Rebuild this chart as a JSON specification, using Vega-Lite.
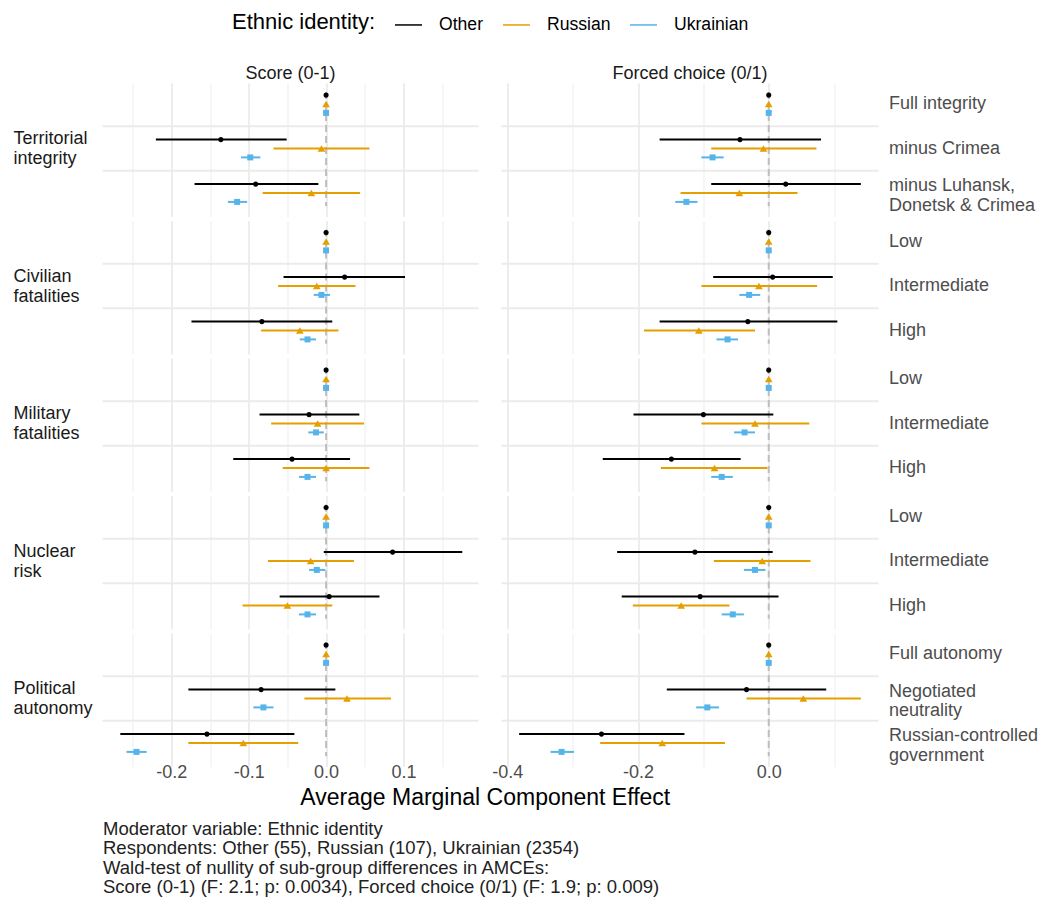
{
  "$schema": "https://vega.github.io/schema/vega-lite/v6.json",
  "background": "white",
  "padding": {"left": 13, "top": 10, "right": 5, "bottom": 5},
  "datasets": {"amce": [
    {"o":"Score (0-1)","a":"Territorial integrity","l":"Full integrity","g":"Other","est":0,"lo":0,"hi":0},
    {"o":"Score (0-1)","a":"Territorial integrity","l":"Full integrity","g":"Russian","est":0,"lo":0,"hi":0},
    {"o":"Score (0-1)","a":"Territorial integrity","l":"Full integrity","g":"Ukrainian","est":0,"lo":0,"hi":0},
    {"o":"Score (0-1)","a":"Territorial integrity","l":"minus Crimea","g":"Other","est":-0.136,"lo":-0.220,"hi":-0.051},
    {"o":"Score (0-1)","a":"Territorial integrity","l":"minus Crimea","g":"Russian","est":-0.006,"lo":-0.068,"hi":0.056},
    {"o":"Score (0-1)","a":"Territorial integrity","l":"minus Crimea","g":"Ukrainian","est":-0.098,"lo":-0.110,"hi":-0.085},
    {"o":"Score (0-1)","a":"Territorial integrity","l":"minus Luhansk, Donetsk & Crimea","g":"Other","est":-0.091,"lo":-0.170,"hi":-0.010},
    {"o":"Score (0-1)","a":"Territorial integrity","l":"minus Luhansk, Donetsk & Crimea","g":"Russian","est":-0.019,"lo":-0.082,"hi":0.044},
    {"o":"Score (0-1)","a":"Territorial integrity","l":"minus Luhansk, Donetsk & Crimea","g":"Ukrainian","est":-0.115,"lo":-0.127,"hi":-0.102},
    {"o":"Forced choice (0/1)","a":"Territorial integrity","l":"Full integrity","g":"Other","est":0,"lo":0,"hi":0},
    {"o":"Forced choice (0/1)","a":"Territorial integrity","l":"Full integrity","g":"Russian","est":0,"lo":0,"hi":0},
    {"o":"Forced choice (0/1)","a":"Territorial integrity","l":"Full integrity","g":"Ukrainian","est":0,"lo":0,"hi":0},
    {"o":"Forced choice (0/1)","a":"Territorial integrity","l":"minus Crimea","g":"Other","est":-0.044,"lo":-0.167,"hi":0.080},
    {"o":"Forced choice (0/1)","a":"Territorial integrity","l":"minus Crimea","g":"Russian","est":-0.008,"lo":-0.088,"hi":0.073},
    {"o":"Forced choice (0/1)","a":"Territorial integrity","l":"minus Crimea","g":"Ukrainian","est":-0.086,"lo":-0.103,"hi":-0.069},
    {"o":"Forced choice (0/1)","a":"Territorial integrity","l":"minus Luhansk, Donetsk & Crimea","g":"Other","est":0.026,"lo":-0.088,"hi":0.141},
    {"o":"Forced choice (0/1)","a":"Territorial integrity","l":"minus Luhansk, Donetsk & Crimea","g":"Russian","est":-0.045,"lo":-0.135,"hi":0.044},
    {"o":"Forced choice (0/1)","a":"Territorial integrity","l":"minus Luhansk, Donetsk & Crimea","g":"Ukrainian","est":-0.126,"lo":-0.143,"hi":-0.109},

    {"o":"Score (0-1)","a":"Civilian fatalities","l":"Low","g":"Other","est":0,"lo":0,"hi":0},
    {"o":"Score (0-1)","a":"Civilian fatalities","l":"Low","g":"Russian","est":0,"lo":0,"hi":0},
    {"o":"Score (0-1)","a":"Civilian fatalities","l":"Low","g":"Ukrainian","est":0,"lo":0,"hi":0},
    {"o":"Score (0-1)","a":"Civilian fatalities","l":"Intermediate","g":"Other","est":0.024,"lo":-0.055,"hi":0.102},
    {"o":"Score (0-1)","a":"Civilian fatalities","l":"Intermediate","g":"Russian","est":-0.012,"lo":-0.062,"hi":0.038},
    {"o":"Score (0-1)","a":"Civilian fatalities","l":"Intermediate","g":"Ukrainian","est":-0.006,"lo":-0.016,"hi":0.005},
    {"o":"Score (0-1)","a":"Civilian fatalities","l":"High","g":"Other","est":-0.083,"lo":-0.174,"hi":0.008},
    {"o":"Score (0-1)","a":"Civilian fatalities","l":"High","g":"Russian","est":-0.034,"lo":-0.084,"hi":0.016},
    {"o":"Score (0-1)","a":"Civilian fatalities","l":"High","g":"Ukrainian","est":-0.024,"lo":-0.034,"hi":-0.013},
    {"o":"Forced choice (0/1)","a":"Civilian fatalities","l":"Low","g":"Other","est":0,"lo":0,"hi":0},
    {"o":"Forced choice (0/1)","a":"Civilian fatalities","l":"Low","g":"Russian","est":0,"lo":0,"hi":0},
    {"o":"Forced choice (0/1)","a":"Civilian fatalities","l":"Low","g":"Ukrainian","est":0,"lo":0,"hi":0},
    {"o":"Forced choice (0/1)","a":"Civilian fatalities","l":"Intermediate","g":"Other","est":0.006,"lo":-0.085,"hi":0.098},
    {"o":"Forced choice (0/1)","a":"Civilian fatalities","l":"Intermediate","g":"Russian","est":-0.015,"lo":-0.103,"hi":0.074},
    {"o":"Forced choice (0/1)","a":"Civilian fatalities","l":"Intermediate","g":"Ukrainian","est":-0.030,"lo":-0.045,"hi":-0.013},
    {"o":"Forced choice (0/1)","a":"Civilian fatalities","l":"High","g":"Other","est":-0.032,"lo":-0.167,"hi":0.105},
    {"o":"Forced choice (0/1)","a":"Civilian fatalities","l":"High","g":"Russian","est":-0.107,"lo":-0.191,"hi":-0.021},
    {"o":"Forced choice (0/1)","a":"Civilian fatalities","l":"High","g":"Ukrainian","est":-0.063,"lo":-0.080,"hi":-0.047},

    {"o":"Score (0-1)","a":"Military fatalities","l":"Low","g":"Other","est":0,"lo":0,"hi":0},
    {"o":"Score (0-1)","a":"Military fatalities","l":"Low","g":"Russian","est":0,"lo":0,"hi":0},
    {"o":"Score (0-1)","a":"Military fatalities","l":"Low","g":"Ukrainian","est":0,"lo":0,"hi":0},
    {"o":"Score (0-1)","a":"Military fatalities","l":"Intermediate","g":"Other","est":-0.022,"lo":-0.086,"hi":0.043},
    {"o":"Score (0-1)","a":"Military fatalities","l":"Intermediate","g":"Russian","est":-0.011,"lo":-0.071,"hi":0.049},
    {"o":"Score (0-1)","a":"Military fatalities","l":"Intermediate","g":"Ukrainian","est":-0.013,"lo":-0.023,"hi":-0.003},
    {"o":"Score (0-1)","a":"Military fatalities","l":"High","g":"Other","est":-0.044,"lo":-0.120,"hi":0.031},
    {"o":"Score (0-1)","a":"Military fatalities","l":"High","g":"Russian","est":0.000,"lo":-0.056,"hi":0.056},
    {"o":"Score (0-1)","a":"Military fatalities","l":"High","g":"Ukrainian","est":-0.024,"lo":-0.035,"hi":-0.013},
    {"o":"Forced choice (0/1)","a":"Military fatalities","l":"Low","g":"Other","est":0,"lo":0,"hi":0},
    {"o":"Forced choice (0/1)","a":"Military fatalities","l":"Low","g":"Russian","est":0,"lo":0,"hi":0},
    {"o":"Forced choice (0/1)","a":"Military fatalities","l":"Low","g":"Ukrainian","est":0,"lo":0,"hi":0},
    {"o":"Forced choice (0/1)","a":"Military fatalities","l":"Intermediate","g":"Other","est":-0.100,"lo":-0.207,"hi":0.007},
    {"o":"Forced choice (0/1)","a":"Military fatalities","l":"Intermediate","g":"Russian","est":-0.021,"lo":-0.103,"hi":0.062},
    {"o":"Forced choice (0/1)","a":"Military fatalities","l":"Intermediate","g":"Ukrainian","est":-0.037,"lo":-0.053,"hi":-0.021},
    {"o":"Forced choice (0/1)","a":"Military fatalities","l":"High","g":"Other","est":-0.149,"lo":-0.254,"hi":-0.043},
    {"o":"Forced choice (0/1)","a":"Military fatalities","l":"High","g":"Russian","est":-0.083,"lo":-0.165,"hi":-0.002},
    {"o":"Forced choice (0/1)","a":"Military fatalities","l":"High","g":"Ukrainian","est":-0.072,"lo":-0.088,"hi":-0.055},

    {"o":"Score (0-1)","a":"Nuclear risk","l":"Low","g":"Other","est":0,"lo":0,"hi":0},
    {"o":"Score (0-1)","a":"Nuclear risk","l":"Low","g":"Russian","est":0,"lo":0,"hi":0},
    {"o":"Score (0-1)","a":"Nuclear risk","l":"Low","g":"Ukrainian","est":0,"lo":0,"hi":0},
    {"o":"Score (0-1)","a":"Nuclear risk","l":"Intermediate","g":"Other","est":0.086,"lo":-0.003,"hi":0.176},
    {"o":"Score (0-1)","a":"Nuclear risk","l":"Intermediate","g":"Russian","est":-0.020,"lo":-0.075,"hi":0.036},
    {"o":"Score (0-1)","a":"Nuclear risk","l":"Intermediate","g":"Ukrainian","est":-0.012,"lo":-0.022,"hi":-0.001},
    {"o":"Score (0-1)","a":"Nuclear risk","l":"High","g":"Other","est":0.004,"lo":-0.060,"hi":0.069},
    {"o":"Score (0-1)","a":"Nuclear risk","l":"High","g":"Russian","est":-0.050,"lo":-0.108,"hi":0.008},
    {"o":"Score (0-1)","a":"Nuclear risk","l":"High","g":"Ukrainian","est":-0.024,"lo":-0.035,"hi":-0.013},
    {"o":"Forced choice (0/1)","a":"Nuclear risk","l":"Low","g":"Other","est":0,"lo":0,"hi":0},
    {"o":"Forced choice (0/1)","a":"Nuclear risk","l":"Low","g":"Russian","est":0,"lo":0,"hi":0},
    {"o":"Forced choice (0/1)","a":"Nuclear risk","l":"Low","g":"Ukrainian","est":0,"lo":0,"hi":0},
    {"o":"Forced choice (0/1)","a":"Nuclear risk","l":"Intermediate","g":"Other","est":-0.113,"lo":-0.232,"hi":0.006},
    {"o":"Forced choice (0/1)","a":"Nuclear risk","l":"Intermediate","g":"Russian","est":-0.010,"lo":-0.084,"hi":0.064},
    {"o":"Forced choice (0/1)","a":"Nuclear risk","l":"Intermediate","g":"Ukrainian","est":-0.021,"lo":-0.038,"hi":-0.005},
    {"o":"Forced choice (0/1)","a":"Nuclear risk","l":"High","g":"Other","est":-0.105,"lo":-0.225,"hi":0.015},
    {"o":"Forced choice (0/1)","a":"Nuclear risk","l":"High","g":"Russian","est":-0.134,"lo":-0.208,"hi":-0.060},
    {"o":"Forced choice (0/1)","a":"Nuclear risk","l":"High","g":"Ukrainian","est":-0.055,"lo":-0.072,"hi":-0.038},

    {"o":"Score (0-1)","a":"Political autonomy","l":"Full autonomy","g":"Other","est":0,"lo":0,"hi":0},
    {"o":"Score (0-1)","a":"Political autonomy","l":"Full autonomy","g":"Russian","est":0,"lo":0,"hi":0},
    {"o":"Score (0-1)","a":"Political autonomy","l":"Full autonomy","g":"Ukrainian","est":0,"lo":0,"hi":0},
    {"o":"Score (0-1)","a":"Political autonomy","l":"Negotiated neutrality","g":"Other","est":-0.084,"lo":-0.178,"hi":0.012},
    {"o":"Score (0-1)","a":"Political autonomy","l":"Negotiated neutrality","g":"Russian","est":0.027,"lo":-0.028,"hi":0.084},
    {"o":"Score (0-1)","a":"Political autonomy","l":"Negotiated neutrality","g":"Ukrainian","est":-0.081,"lo":-0.094,"hi":-0.068},
    {"o":"Score (0-1)","a":"Political autonomy","l":"Russian-controlled government","g":"Other","est":-0.154,"lo":-0.266,"hi":-0.041},
    {"o":"Score (0-1)","a":"Political autonomy","l":"Russian-controlled government","g":"Russian","est":-0.107,"lo":-0.178,"hi":-0.036},
    {"o":"Score (0-1)","a":"Political autonomy","l":"Russian-controlled government","g":"Ukrainian","est":-0.245,"lo":-0.258,"hi":-0.232},
    {"o":"Forced choice (0/1)","a":"Political autonomy","l":"Full autonomy","g":"Other","est":0,"lo":0,"hi":0},
    {"o":"Forced choice (0/1)","a":"Political autonomy","l":"Full autonomy","g":"Russian","est":0,"lo":0,"hi":0},
    {"o":"Forced choice (0/1)","a":"Political autonomy","l":"Full autonomy","g":"Ukrainian","est":0,"lo":0,"hi":0},
    {"o":"Forced choice (0/1)","a":"Political autonomy","l":"Negotiated neutrality","g":"Other","est":-0.034,"lo":-0.156,"hi":0.088},
    {"o":"Forced choice (0/1)","a":"Political autonomy","l":"Negotiated neutrality","g":"Russian","est":0.053,"lo":-0.034,"hi":0.141},
    {"o":"Forced choice (0/1)","a":"Political autonomy","l":"Negotiated neutrality","g":"Ukrainian","est":-0.094,"lo":-0.111,"hi":-0.076},
    {"o":"Forced choice (0/1)","a":"Political autonomy","l":"Russian-controlled government","g":"Other","est":-0.256,"lo":-0.382,"hi":-0.129},
    {"o":"Forced choice (0/1)","a":"Political autonomy","l":"Russian-controlled government","g":"Russian","est":-0.163,"lo":-0.258,"hi":-0.067},
    {"o":"Forced choice (0/1)","a":"Political autonomy","l":"Russian-controlled government","g":"Ukrainian","est":-0.317,"lo":-0.334,"hi":-0.298}
  ]},
  "data": {"name": "amce"},
  "title": {
    "text": ["Moderator variable: Ethnic identity", "Respondents: Other (55), Russian (107), Ukrainian (2354)", "Wald-test of nullity of sub-group differences in AMCEs:", "Score (0-1) (F: 2.1; p: 0.0034), Forced choice (0/1) (F: 1.9; p: 0.009)"],
    "orient": "bottom", "anchor": "start", "frame": "bounds", "fontSize": 18.5, "fontWeight": "normal", "color": "#222222", "lineHeight": 19.4, "offset": 10, "dx": 90
  },
  "config": {
    "font": "Liberation Sans",
    "view": {"stroke": null},
    "axis": {"domain": false, "ticks": false, "labelFontSize": 18, "labelColor": "#4d4d4d", "gridColor": "#ebebeb", "title": null},
    "header": {"title": null}
  },
  "vconcat": [
    {
      "title": {"text": "Average Marginal Component Effect", "orient": "bottom", "anchor": "middle", "frame": "bounds", "dx": -40, "fontSize": 23, "fontWeight": "normal", "color": "#000000", "offset": 6},
      "spacing": 8.5,
      "hconcat": [
        {
          "transform": [{"filter": "datum.o == 'Score (0-1)' && datum.g == 'Russian' && datum.lo == datum.hi"}],
          "facet": {
            "row": {"field": "a", "type": "nominal", "sort": ["Territorial integrity", "Civilian fatalities", "Military fatalities", "Nuclear risk", "Political autonomy"], "header": {"title": null, "labels": false}},
            "column": {"field": "o", "type": "nominal", "header": {"title": null, "labelFontSize": 18, "labelExpr": "' '", "labelPadding": 9}}
          },
          "spacing": {"row": 22.5, "column": 0},
          "bounds": "flush",
          "spec": {
            "width": 1,
            "height": 114.3,
            "mark": {"type": "text", "align": "left", "baseline": "middle", "lineBreak": " ", "fontSize": 18, "lineHeight": 20, "dy": -10, "color": "#1a1a1a"},
            "encoding": {"text": {"field": "a", "type": "nominal"}}
          }
        },
        {
          "spacing": 12,
          "hconcat": [
            {
              "transform": [{"filter": "datum.o == 'Score (0-1)'"}],
              "facet": {
                "row": {"field": "a", "type": "nominal", "sort": ["Territorial integrity", "Civilian fatalities", "Military fatalities", "Nuclear risk", "Political autonomy"], "header": {"title": null, "labels": false}},
                "column": {"field": "o", "type": "nominal", "header": {"title": null, "labelFontSize": 18, "labelColor": "#1a1a1a", "labelPadding": 9}}
              },
              "spacing": {"row": 22.5, "column": 0},
              "bounds": "flush",
              "resolve": {"scale": {"y": "independent", "yOffset": "independent"}},
              "spec": {
                "width": 376,
                "height": 114.3,
                "layer": [
                  {
                    "transform": [{"filter": "datum.g == 'Russian'"}],
                    "mark": {"type": "rule", "color": "#ebebeb", "strokeWidth": 1.8},
                    "encoding": {
                      "y": {"field": "l", "type": "nominal", "sort": null, "bandPosition": 0, "scale": {"range": [-10.25, 123.25], "paddingInner": 0, "paddingOuter": 0}, "axis": null},
                      "strokeOpacity": {"condition": {"test": "datum.lo == datum.hi", "value": 0}, "value": 1}
                    }
                  },
                  {
                    "transform": [{"filter": "datum.g == 'Russian' && datum.lo == datum.hi"}],
                    "mark": {"type": "rule", "color": "#bebebe", "strokeWidth": 2, "strokeDash": [7, 4]},
                    "encoding": {"x": {"field": "est", "type": "quantitative", "scale": {"domain": [-0.289, 0.197], "nice": false, "zero": false},
                      "axis": {"values": [-0.25, -0.2, -0.15, -0.1, -0.05, 0, 0.05, 0.1, 0.15], "grid": true, "labelPadding": 6,
                        "labelExpr": "abs(datum.value*10 - round(datum.value*10)) < 0.01 ? replace(format(datum.value, '.1f'), '−', '-') : ''",
                        "gridWidth": {"condition": {"test": "abs(datum.value*10 - round(datum.value*10)) < 0.01", "value": 1.8}, "value": 0.9}}}}
                  },
                  {
                    "mark": {"type": "rule", "strokeWidth": 2},
                    "encoding": {
                      "x": {"field": "lo", "type": "quantitative",
                        "axis": {"values": [-0.25, -0.2, -0.15, -0.1, -0.05, 0, 0.05, 0.1, 0.15], "grid": true, "labelPadding": 6,
                          "labelExpr": "abs(datum.value*10 - round(datum.value*10)) < 0.01 ? replace(format(datum.value, '.1f'), '−', '-') : ''",
                          "gridWidth": {"condition": {"test": "abs(datum.value*10 - round(datum.value*10)) < 0.01", "value": 1.8}, "value": 0.9}}},
                      "x2": {"field": "hi"},
                      "y": {"field": "l", "type": "nominal", "sort": null, "axis": null},
                      "yOffset": {"field": "g", "type": "nominal", "scale": {"type": "band", "domain": ["Other", "Russian", "Ukrainian"], "paddingInner": 0, "paddingOuter": 1.47}},
                      "color": {"field": "g", "type": "nominal"}
                    }
                  },
                  {
                    "mark": {"type": "point", "filled": true, "opacity": 1},
                    "encoding": {
                      "x": {"field": "est", "type": "quantitative",
                        "axis": {"values": [-0.25, -0.2, -0.15, -0.1, -0.05, 0, 0.05, 0.1, 0.15], "grid": true, "labelPadding": 6,
                          "labelExpr": "abs(datum.value*10 - round(datum.value*10)) < 0.01 ? replace(format(datum.value, '.1f'), '−', '-') : ''",
                          "gridWidth": {"condition": {"test": "abs(datum.value*10 - round(datum.value*10)) < 0.01", "value": 1.8}, "value": 0.9}}},
                      "y": {"field": "l", "type": "nominal", "sort": null, "axis": null},
                      "yOffset": {"field": "g", "type": "nominal"},
                      "color": {"field": "g", "type": "nominal",
                        "scale": {"domain": ["Other", "Russian", "Ukrainian"], "range": ["#000000", "#E69F00", "#56B4E9"]},
                        "legend": {"title": "Ethnic identity:", "orient": "none", "legendX": 219, "legendY": -82, "direction": "horizontal", "titleOrient": "left",
                          "titleFontSize": 22, "titleFontWeight": "normal", "titleColor": "#000000", "titlePadding": 18, "titleAnchor": "middle", "titleBaseline": "middle",
                          "labelFontSize": 17.6, "labelColor": "#000000", "labelOffset": 16, "columnPadding": 16, "symbolSize": 729,
                          "encode": {"symbols": {
                            "shape": {"value": {"expr": "datum.value === 'Other' ? 'M-1,0L1,0M0.2,0A0.2,0.2,0,1,1,-0.2,0A0.2,0.2,0,1,1,0.2,0Z' : datum.value === 'Russian' ? 'M-1,0L1,0M0,-0.24L0.24,0.18L-0.24,0.18Z' : 'M-1,0L1,0M-0.19,-0.19L0.19,-0.19L0.19,0.19L-0.19,0.19Z'"}},
                            "stroke": {"value": {"expr": "scale('color', datum.value)"}},
                            "strokeWidth": {"value": 2},
                            "size": {"value": 729},
                            "opacity": {"value": 1}
                          }}}},
                      "shape": {"condition": [{"test": "datum.g == 'Other'", "value": "circle"}, {"test": "datum.g == 'Russian'", "value": "triangle-up"}], "value": "square"},
                      "size": {"condition": [{"test": "datum.g == 'Other'", "value": 26}, {"test": "datum.g == 'Russian'", "value": 60}], "value": 36}
                    }
                  }
                ]
              }
            },
            {
              "transform": [{"filter": "datum.o == 'Forced choice (0/1)'"}],
              "facet": {
                "row": {"field": "a", "type": "nominal", "sort": ["Territorial integrity", "Civilian fatalities", "Military fatalities", "Nuclear risk", "Political autonomy"], "header": {"title": null, "labels": false}},
                "column": {"field": "o", "type": "nominal", "header": {"title": null, "labelFontSize": 18, "labelColor": "#1a1a1a", "labelPadding": 9}}
              },
              "spacing": {"row": 22.5, "column": 0},
              "bounds": "flush",
              "resolve": {"scale": {"y": "independent", "yOffset": "independent"}},
              "spec": {
                "width": 377,
                "height": 114.3,
                "layer": [
                  {
                    "transform": [{"filter": "datum.g == 'Russian'"}],
                    "mark": {"type": "rule", "color": "#ebebeb", "strokeWidth": 1.8},
                    "encoding": {
                      "y": {"field": "l", "type": "nominal", "sort": null, "bandPosition": 0, "scale": {"range": [-10.25, 123.25], "paddingInner": 0, "paddingOuter": 0},
                        "axis": {"orient": "right", "labelPadding": 10, "labelFontSize": 18, "labelColor": "#4d4d4d", "labelLineHeight": 19.5, "grid": false,
                          "labelOffset": {"condition": {"test": "datum.value == 'minus Luhansk, Donetsk & Crimea' || datum.value == 'Negotiated neutrality' || datum.value == 'Russian-controlled government'", "value": -7}, "value": 0},
                          "labelExpr": "datum.label == 'minus Luhansk, Donetsk & Crimea' ? ['minus Luhansk,', 'Donetsk & Crimea'] : datum.label == 'Negotiated neutrality' ? ['Negotiated', 'neutrality'] : datum.label == 'Russian-controlled government' ? ['Russian-controlled', 'government'] : datum.label"}},
                      "strokeOpacity": {"condition": {"test": "datum.lo == datum.hi", "value": 0}, "value": 1}
                    }
                  },
                  {
                    "transform": [{"filter": "datum.g == 'Russian' && datum.lo == datum.hi"}],
                    "mark": {"type": "rule", "color": "#bebebe", "strokeWidth": 2, "strokeDash": [7, 4]},
                    "encoding": {"x": {"field": "est", "type": "quantitative", "scale": {"domain": [-0.409, 0.168], "nice": false, "zero": false},
                      "axis": {"values": [-0.4, -0.3, -0.2, -0.1, 0, 0.1], "grid": true, "labelPadding": 6,
                        "labelExpr": "abs(datum.value*5 - round(datum.value*5)) < 0.01 ? replace(format(datum.value, '.1f'), '−', '-') : ''",
                        "gridWidth": {"condition": {"test": "abs(datum.value*5 - round(datum.value*5)) < 0.01", "value": 1.8}, "value": 0.9}}}}
                  },
                  {
                    "mark": {"type": "rule", "strokeWidth": 2},
                    "encoding": {
                      "x": {"field": "lo", "type": "quantitative",
                        "axis": {"values": [-0.4, -0.3, -0.2, -0.1, 0, 0.1], "grid": true, "labelPadding": 6,
                          "labelExpr": "abs(datum.value*5 - round(datum.value*5)) < 0.01 ? replace(format(datum.value, '.1f'), '−', '-') : ''",
                          "gridWidth": {"condition": {"test": "abs(datum.value*5 - round(datum.value*5)) < 0.01", "value": 1.8}, "value": 0.9}}},
                      "x2": {"field": "hi"},
                      "y": {"field": "l", "type": "nominal", "sort": null,
                        "axis": {"orient": "right", "labelPadding": 10, "labelFontSize": 18, "labelColor": "#4d4d4d", "labelLineHeight": 19.5, "grid": false,
                          "labelOffset": {"condition": {"test": "datum.value == 'minus Luhansk, Donetsk & Crimea' || datum.value == 'Negotiated neutrality' || datum.value == 'Russian-controlled government'", "value": -7}, "value": 0},
                          "labelExpr": "datum.label == 'minus Luhansk, Donetsk & Crimea' ? ['minus Luhansk,', 'Donetsk & Crimea'] : datum.label == 'Negotiated neutrality' ? ['Negotiated', 'neutrality'] : datum.label == 'Russian-controlled government' ? ['Russian-controlled', 'government'] : datum.label"}},
                      "yOffset": {"field": "g", "type": "nominal", "scale": {"type": "band", "domain": ["Other", "Russian", "Ukrainian"], "paddingInner": 0, "paddingOuter": 1.47}},
                      "color": {"field": "g", "type": "nominal"}
                    }
                  },
                  {
                    "mark": {"type": "point", "filled": true, "opacity": 1},
                    "encoding": {
                      "x": {"field": "est", "type": "quantitative",
                        "axis": {"values": [-0.4, -0.3, -0.2, -0.1, 0, 0.1], "grid": true, "labelPadding": 6,
                          "labelExpr": "abs(datum.value*5 - round(datum.value*5)) < 0.01 ? replace(format(datum.value, '.1f'), '−', '-') : ''",
                          "gridWidth": {"condition": {"test": "abs(datum.value*5 - round(datum.value*5)) < 0.01", "value": 1.8}, "value": 0.9}}},
                      "y": {"field": "l", "type": "nominal", "sort": null,
                        "axis": {"orient": "right", "labelPadding": 10, "labelFontSize": 18, "labelColor": "#4d4d4d", "labelLineHeight": 19.5, "grid": false,
                          "labelOffset": {"condition": {"test": "datum.value == 'minus Luhansk, Donetsk & Crimea' || datum.value == 'Negotiated neutrality' || datum.value == 'Russian-controlled government'", "value": -7}, "value": 0},
                          "labelExpr": "datum.label == 'minus Luhansk, Donetsk & Crimea' ? ['minus Luhansk,', 'Donetsk & Crimea'] : datum.label == 'Negotiated neutrality' ? ['Negotiated', 'neutrality'] : datum.label == 'Russian-controlled government' ? ['Russian-controlled', 'government'] : datum.label"}},
                      "yOffset": {"field": "g", "type": "nominal"},
                      "color": {"field": "g", "type": "nominal"},
                      "shape": {"condition": [{"test": "datum.g == 'Other'", "value": "circle"}, {"test": "datum.g == 'Russian'", "value": "triangle-up"}], "value": "square"},
                      "size": {"condition": [{"test": "datum.g == 'Other'", "value": 26}, {"test": "datum.g == 'Russian'", "value": 60}], "value": 36}
                    }
                  }
                ]
              }
            }
          ]
        }
      ]
    }
  ]
}
